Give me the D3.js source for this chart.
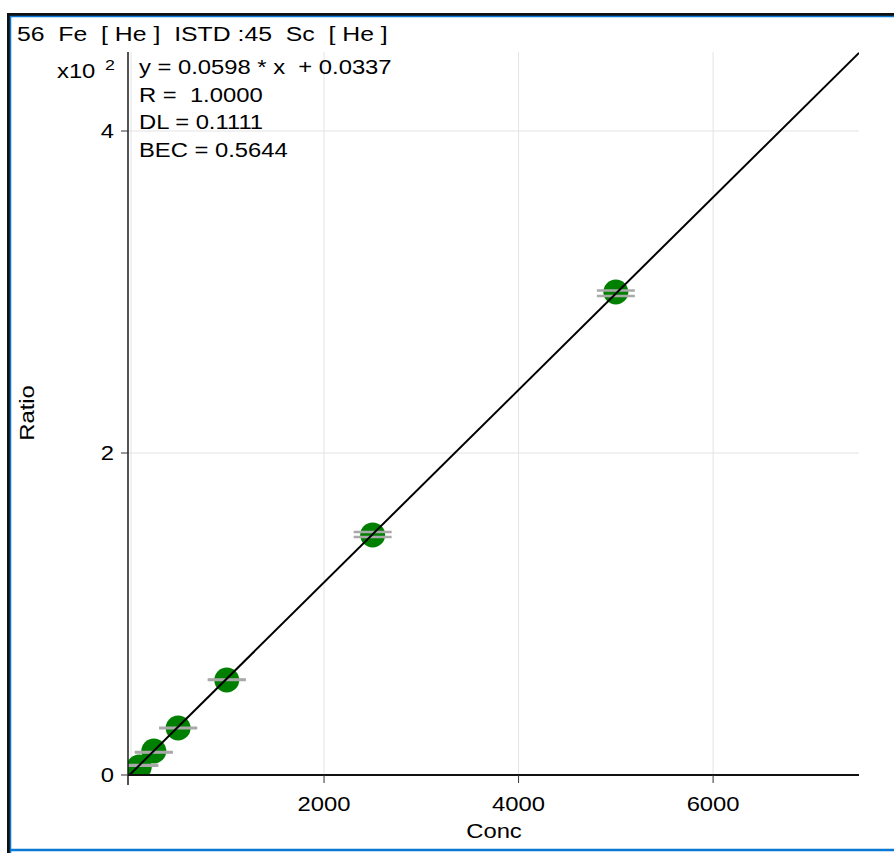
<!DOCTYPE html>
<html>
<head>
<meta charset="utf-8">
<script src="https://cdn.jsdelivr.net/npm/d3@7"></script>
<style>
  body { margin: 0; background: #fff; }
  text { font-family: "Liberation Sans", Arial, sans-serif; fill: #000; white-space: pre; }
</style>
</head>
<body>
<div id="chart"></div>
<script>
// calibration standards (Conc) and response ratio (x10^2)
var concs = [100, 250, 500, 1000, 2500, 5000];
var ratios = [0.05, 0.149, 0.292, 0.59, 1.491, 3.0];
// two replicate readings per standard (gray bars)
var repA = [0.062, 0.143, 0.293, 0.593, 1.509, 3.01];
var repB = [0.058, 0.140, 0.290, 0.590, 1.478, 2.975];
var blank = {conc: 0, ratio: 0};
var xTicks = [2000, 4000, 6000];
var yTicks = [0, 2, 4];
var fit = {slope: 0.0598, intercept: 0.0337};
var title = "56  Fe  [ He ]  ISTD :45  Sc  [ He ]";
var notes = ["y = 0.0598 * x  + 0.0337", "R =  1.0000", "DL = 0.1111", "BEC = 0.5644"];

var width = 894, height = 853,
    plot = {left: 128, right: 859, top: 52, bottom: 775},
    sx = 1.19;

var svg = d3.select("#chart").append("svg")
    .attr("width", width).attr("height", height);

var x = d3.scaleLinear().domain([0, 7500]).range([129.5, plot.right]);
var y = d3.scaleLinear().domain([0, 4.5]).range([plot.bottom, 50.5]);

// stretched text helper (the reference font is wide)
function label(g, px, py, str, size, anchor, rot, stretch) {
  return g.append("text")
    .attr("transform", "translate(" + px + "," + py + ")" + (rot ? " rotate(" + rot + ")" : "") + " scale(" + (stretch || sx) + ",1)")
    .attr("text-anchor", anchor || "start")
    .style("font-size", size + "px")
    .text(str);
}

// frame
svg.append("path").attr("d", "M8.5,853 V14.5 H894")
  .style("fill", "none").style("stroke", "#111").style("stroke-width", 3);
svg.append("path").attr("d", "M10.5,853 V16.5 H894")
  .style("fill", "none").style("stroke", "#0a78d4").style("stroke-width", 1.5);
svg.append("line").attr("x1", 10).attr("x2", 894).attr("y1", 850).attr("y2", 850)
  .style("stroke", "#0a78d4").style("stroke-width", 2.5);

label(svg, 17, 41, title, 20.5, "start", null, 1.21);

// grid
var grid = svg.append("g");
grid.selectAll(".gx").data([0].concat(xTicks)).enter().append("line")
  .attr("x1", function(d) { return x(d) + (d === 0 ? 1.5 : 0); })
  .attr("x2", function(d) { return x(d) + (d === 0 ? 1.5 : 0); })
  .attr("y1", plot.top).attr("y2", plot.bottom)
  .style("stroke", "#e3e3e3").style("stroke-width", 1);
grid.selectAll(".gy").data(yTicks.slice(1)).enter().append("line")
  .attr("x1", plot.left).attr("x2", plot.right)
  .attr("y1", function(d) { return y(d); }).attr("y2", function(d) { return y(d); })
  .style("stroke", "#e3e3e3").style("stroke-width", 1);

// data layer, clipped to plot area
svg.append("clipPath").attr("id", "clip").append("rect")
  .attr("x", plot.left).attr("y", plot.top)
  .attr("width", plot.right - plot.left).attr("height", plot.bottom - plot.top + 1);
var data = svg.append("g").attr("clip-path", "url(#clip)");

data.append("circle").attr("cx", x(blank.conc)).attr("cy", y(blank.ratio)).attr("r", 12.5)
  .style("fill", "#0000ee");

var pts = concs.map(function(c, i) { return {conc: c, ratio: ratios[i], a: repA[i], b: repB[i]}; });

data.selectAll(".pt").data(pts).enter().append("circle")
  .attr("cx", function(d) { return x(d.conc); })
  .attr("cy", function(d) { return y(d.ratio); })
  .attr("r", 12.5)
  .style("fill", "#008000");

["a", "b"].forEach(function(k) {
  data.selectAll(".rep" + k).data(pts).enter().append("line")
    .attr("x1", function(d) { return x(d.conc) - 19; })
    .attr("x2", function(d) { return x(d.conc) + 19; })
    .attr("y1", function(d) { return y(d[k]); })
    .attr("y2", function(d) { return y(d[k]); })
    .style("stroke", "#a9a9a9").style("stroke-width", 2.5);
});

var fitLine = d3.line()
  .x(function(d) { return x(d); })
  .y(function(d) { return y((fit.slope * d + fit.intercept) / 100); });
data.append("path").datum([0, 7500])
  .attr("d", fitLine)
  .style("fill", "none").style("stroke", "#000").style("stroke-width", 2);

// axes
svg.append("line").attr("x1", plot.left).attr("x2", plot.left)
  .attr("y1", plot.top).attr("y2", 785)
  .style("stroke", "#1a1a1a").style("stroke-width", 1.5);
svg.append("line").attr("x1", plot.left).attr("x2", plot.right)
  .attr("y1", plot.bottom).attr("y2", plot.bottom)
  .style("stroke", "#111").style("stroke-width", 2);

var xa = svg.append("g");
xTicks.forEach(function(t) {
  xa.append("line").attr("x1", x(t)).attr("x2", x(t)).attr("y1", plot.bottom).attr("y2", 783)
    .style("stroke", "#333").style("stroke-width", 1);
  label(xa, x(t), 811, String(t), 20, "middle");
});
var ya = svg.append("g");
yTicks.forEach(function(t) {
  ya.append("line").attr("x1", 121).attr("x2", plot.left).attr("y1", y(t)).attr("y2", y(t))
    .style("stroke", "#333").style("stroke-width", 1);
  label(ya, 114, y(t) + 7, String(t), 20, "end");
});

label(svg, 57, 78, "x10", 20);
label(svg, 105, 70, "2", 15);

label(svg, 494, 838, "Conc", 20, "middle");
label(svg, 34, 413, "Ratio", 20, "middle", -90);

notes.forEach(function(s, i) {
  label(svg, 139, 74 + i * 27.6, s, 20);
});
</script>
</body>
</html>
